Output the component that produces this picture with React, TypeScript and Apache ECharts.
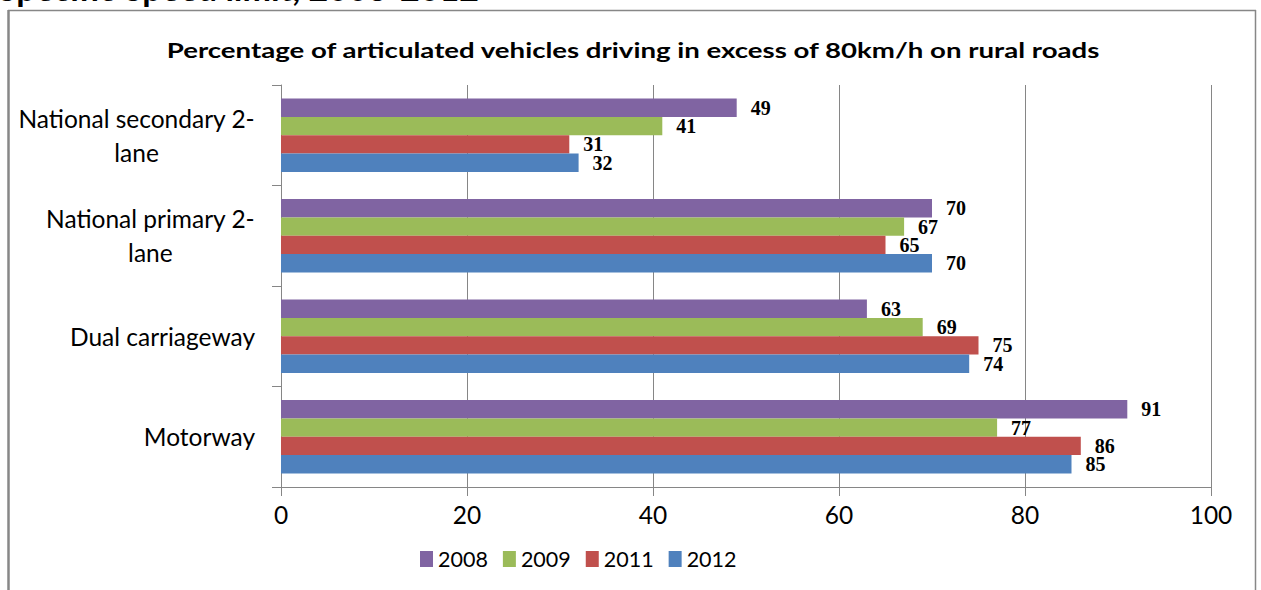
import React, { useEffect, useRef } from 'react';
import * as echarts from 'echarts';

const categories = ['Motorway', 'Dual carriageway', 'National primary 2-lane', 'National secondary 2-lane'];
const years = ['2008', '2009', '2011', '2012'];
const values2008 = [91, 63, 70, 49];
const values2009 = [77, 69, 67, 41];
const values2011 = [86, 75, 65, 31];
const values2012 = [85, 74, 70, 32];
const seriesColors = ['#8064A2', '#9BBB59', '#C0504D', '#4F81BD'];
const pageTitle = 'Specific Speed limit, 2008-2012';
const chartTitle = 'Percentage of articulated vehicles driving in excess of 80km/h on rural roads';

export default function App() {
  const ref = useRef<HTMLDivElement>(null);
  useEffect(() => {
    if (!ref.current) return;
    const chart = echarts.init(ref.current, null, { renderer: 'svg' });
    const valuesByYear = [values2008, values2009, values2011, values2012];
    const series = years.map((y, i) => ({
      name: y,
      type: 'bar',
      data: valuesByYear[i],
      itemStyle: { color: seriesColors[i] },
      barCategoryGap: '27%',
      barGap: '0%',
      label: {
        show: true,
        position: 'right',
        distance: 14,
        color: '#000',
        fontFamily: 'Liberation Serif',
        fontWeight: 'bold',
        fontSize: 20,
      },
    }));
    chart.setOption({
      animation: false,
      backgroundColor: '#fff',
      graphic: [
        {
          type: 'text',
          x: -2,
          y: -30,
          style: { text: pageTitle, font: 'bold 34px Lato', fill: '#000' },
        },
        {
          type: 'text',
          x: 633,
          y: 50,
          scaleX: 1.38,
          style: {
            text: chartTitle,
            font: 'bold 20px Lato',
            fill: '#000',
            align: 'center',
            verticalAlign: 'middle',
          },
        },
        { type: 'line', shape: { x1: 8.5, y1: 10, x2: 8.5, y2: 600 }, style: { stroke: '#878787', lineWidth: 2.5 } },
        { type: 'line', shape: { x1: 8, y1: 10.5, x2: 1256, y2: 10.5 }, style: { stroke: '#878787', lineWidth: 1.5 } },
        { type: 'line', shape: { x1: 1255.5, y1: 10, x2: 1255.5, y2: 600 }, style: { stroke: '#878787', lineWidth: 1.5 } },
      ],
      legend: {
        data: years,
        left: 415,
        top: 543,
        itemWidth: 13,
        itemHeight: 16,
        itemGap: 15,
        icon: 'rect',
        textStyle: { fontFamily: 'Lato', fontSize: 21.5, color: '#000', padding: [0, 0, 0, 0] },
      },
      grid: { left: 281, right: 50, top: 85, bottom: 103, containLabel: false },
      xAxis: {
        type: 'value',
        min: 0,
        max: 100,
        interval: 20,
        axisLine: { show: true, lineStyle: { color: '#868686' } },
        axisTick: { show: true, length: 9, lineStyle: { color: '#868686' } },
        splitLine: { show: true, lineStyle: { color: '#868686' } },
        axisLabel: { margin: 15, fontFamily: 'Lato', fontSize: 24.5, color: '#000' },
      },
      yAxis: {
        type: 'category',
        data: categories,
        axisLine: { show: true, lineStyle: { color: '#868686' } },
        axisTick: { show: true, length: 9, lineStyle: { color: '#868686' } },
        axisLabel: {
          margin: 26,
          fontFamily: 'Lato',
          fontSize: 24.5,
          color: '#000',
          lineHeight: 34,
          formatter: (v: string) =>
            v.replace('2-lane', '2-\nlane').split('\n').map((l) => '{c|' + l + '}').join('\n'),
          rich: { c: { align: 'center', fontFamily: 'Lato', fontSize: 24.5, color: '#000', lineHeight: 34 } },
        },
      },
      series,
    });
    return () => chart.dispose();
  }, []);
  return <div ref={ref} style={{ position: 'fixed', left: 0, top: 0, width: 1261, height: 590 }} />;
}
